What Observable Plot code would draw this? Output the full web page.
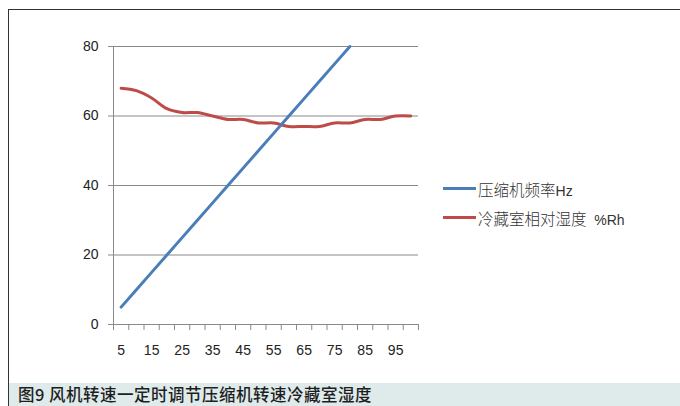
<!DOCTYPE html>
<html>
<head>
<meta charset="utf-8">
<script src="https://cdn.jsdelivr.net/npm/d3@7"></script>
<script src="https://cdn.jsdelivr.net/npm/@observablehq/plot@0.6"></script>
<style>
  body { margin: 0; background: #fff; }
  #wrap { position: relative; width: 680px; height: 406px; overflow: hidden; background: #fff; }
  #border { position: absolute; left: 8px; top: 9px; right: -2px; bottom: -2px; border-left: 1px solid #333; border-top: 1px solid #333; }
  #chart { position: absolute; left: 0; top: 0; }
  #legend { position: absolute; left: 443px; top: 174px; font-family: "Noto Sans CJK SC", sans-serif; font-weight: 300; font-size: 15.5px; color: #333; }
  .row { display: flex; align-items: center; height: 29px; }
  .sw { width: 33px; height: 3.5px; margin-right: 2px; }
  .lat { font-family: "Liberation Sans", sans-serif; font-weight: 400; font-size: 14px; }
  #caption { position: absolute; left: 9px; top: 383px; width: 671px; height: 23px; background: #dfebeb;
             font-family: "Noto Sans CJK SC", sans-serif; font-weight: 500; font-size: 16.5px; color: #1e1e1e;
             line-height: 23px; padding-left: 9px; box-sizing: border-box; letter-spacing: 0.5px; }
</style>
</head>
<body>
<div id="wrap">
  <div id="chart"></div>
  <div id="border"></div>
  <div id="legend"></div>
  <div id="caption"></div>
</div>
<script>
// Data
const categories = [5,10,15,20,25,30,35,40,45,50,55,60,65,70,75,80,85,90,95,100];
const freqHz = [5,10,15,20,25,30,35,40,45,50,55,60,65,70,75,80]; // 压缩机频率Hz (first 16 categories)
const humidity = [68,67.3,65.2,62.1,61,61,60,59,59,58,58,57,57,57,58,58,59,59,60,60]; // 冷藏室相对湿度 %Rh
const xTickLabels = [5,15,25,35,45,55,65,75,85,95];
const yTicks = [0,20,40,60,80];
const seriesNames = ["压缩机频率Hz", "冷藏室相对湿度  %Rh"];
const seriesColors = ["#4a7ebb", "#be4b48"];
const captionText = "图9 风机转速一定时调节压缩机转速冷藏室湿度";

const step = categories[1] - categories[0];
const boundaries = categories.map(c => c - step / 2).concat([categories[categories.length - 1] + step / 2]);

const blueData = freqHz.map((v, i) => ({x: categories[i], y: v}));
const redData = humidity.map((v, i) => ({x: categories[i], y: v}));

const axisGray = "#8a8a8a";

const chart = Plot.plot({
  width: 680,
  height: 383,
  marginLeft: 113,
  marginRight: 262,
  marginTop: 46,
  marginBottom: 59,
  x: {type: "linear", domain: [boundaries[0], boundaries[boundaries.length - 1]]},
  y: {domain: [0, 80]},
  style: {fontFamily: "'Liberation Sans', sans-serif", fontSize: "14px", color: "#222", background: "transparent"},
  marks: [
    Plot.ruleY(yTicks.filter(d => d > 0), {stroke: axisGray, strokeWidth: 1}),
    Plot.frame({anchor: "left", stroke: axisGray}),
    Plot.frame({anchor: "bottom", stroke: axisGray}),
    Plot.axisY(yTicks, {tickSize: 5, tickPadding: 10, stroke: axisGray, fill: "#222", label: null}),
    Plot.axisX(boundaries, {tickSize: 6, tickFormat: () => "", stroke: axisGray, label: null}),
    Plot.axisX(xTickLabels, {tickSize: 0, tickPadding: 21, fill: "#222", label: null}),
    Plot.line(redData, {x: "x", y: "y", stroke: seriesColors[1], strokeWidth: 3, curve: "catmull-rom"}),
    Plot.line(blueData, {x: "x", y: "y", stroke: seriesColors[0], strokeWidth: 3})
  ]
});
document.getElementById("chart").appendChild(chart);

// Legend
const legend = document.getElementById("legend");
seriesNames.forEach((name, i) => {
  const row = document.createElement("div");
  row.className = "row";
  const sw = document.createElement("div");
  sw.className = "sw";
  sw.style.background = seriesColors[i];
  const label = document.createElement("span");
  const m = name.match(/^([^A-Za-z%]+?)(\s*[%A-Za-z].*)$/);
  if (m) {
    const a = document.createElement("span"); a.textContent = m[1];
    const b = document.createElement("span"); b.className = "lat"; b.textContent = m[2]; b.style.whiteSpace = "pre";
    label.appendChild(a); label.appendChild(b);
  } else label.textContent = name;
  row.appendChild(sw); row.appendChild(label);
  legend.appendChild(row);
});

document.getElementById("caption").textContent = captionText;
</script>
</body>
</html>
